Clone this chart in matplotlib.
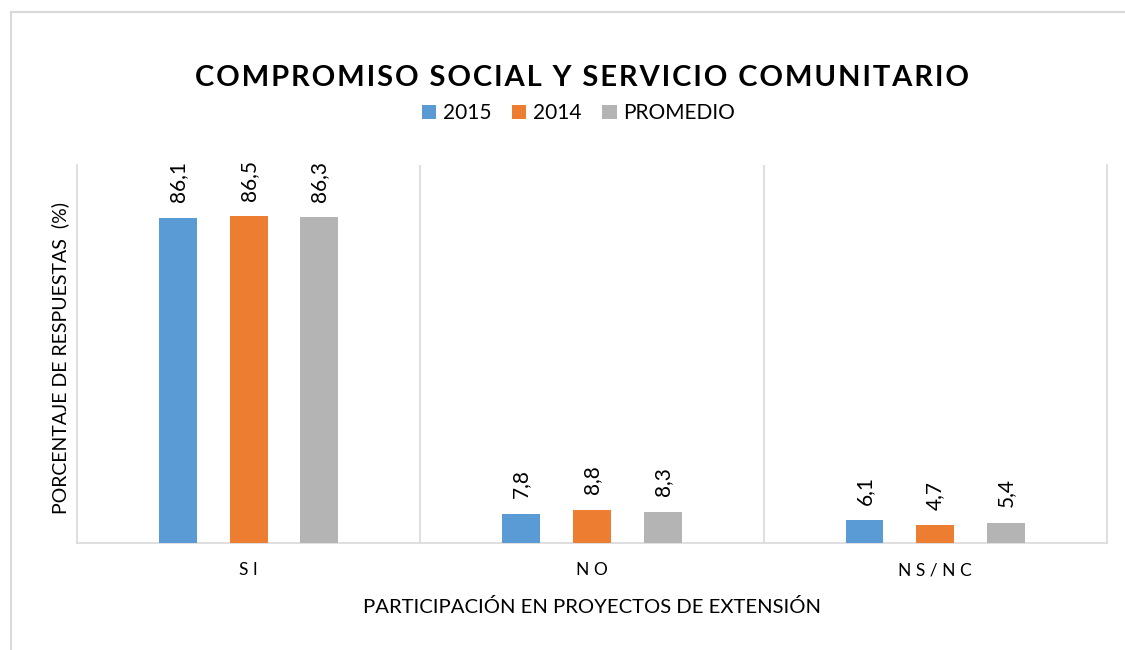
import matplotlib
matplotlib.use("Agg")
from matplotlib import pyplot as plt
from matplotlib.patches import Rectangle
import numpy as np

plt.rcParams['font.family'] = ['Lato', 'DejaVu Sans']

categories = ['S I', 'N O', 'N S / N C']
series_names = ['2015', '2014', 'PROMEDIO']
vals_2015 = [86.1, 7.8, 6.1]
vals_2014 = [86.5, 8.8, 4.7]
vals_prom = [86.3, 8.3, 5.4]
colors = ['#5b9bd5', '#ed7d31', '#b4b4b4']

fig = plt.figure(figsize=(11.25, 6.5), dpi=100)
ax = fig.add_axes([0.0684, 0.1646, 0.9156, 0.5814])

x = np.arange(len(categories))
width = 0.11
offs = [-0.206, 0.0, 0.206]
grid_c = '#d9d9d9'

for vals, name, col, off in zip([vals_2015, vals_2014, vals_prom], series_names, colors, offs):
    bars = ax.bar(x + off, vals, width, color=col, label=name, zorder=3)
    for b, v in zip(bars, vals):
        ax.annotate(('%.1f' % v).replace('.', ','),
                    (b.get_x() + b.get_width() / 2, b.get_height()),
                    xytext=(0, 11), textcoords='offset points',
                    rotation=90, ha='center', va='bottom', fontsize=15)

ax.set_xlim(-0.5, 2.5)
ax.set_ylim(0, 100)
ax.set_yticks([])
ax.set_xticks(x)
ax.set_xticklabels(categories, fontsize=12.5)
ax.tick_params(axis='x', length=0, pad=14)
for xv in [0.5, 1.5]:
    ax.axvline(xv, color=grid_c, lw=1.2, zorder=1)
for s in ['left', 'right', 'bottom']:
    ax.spines[s].set_color(grid_c)
    ax.spines[s].set_linewidth(1.2)
ax.spines['top'].set_visible(False)

fig.text(0.0533, 0.45, 'PORCENTAJE DE RESPUESTAS  (%)', rotation=90,
         ha='center', va='center', fontsize=14)
fig.text(0.526, 0.066, 'PARTICIPACIÓN EN PROYECTOS DE EXTENSIÓN',
         ha='center', va='center', fontsize=14.6)

title = 'COMPROMISO SOCIAL Y SERVICIO COMUNITARIO'
fig.text(0.517, 0.88, '\u200a'.join(title), ha='center', va='center',
         fontsize=21, fontweight='bold')

fig.legend(loc='center', bbox_to_anchor=(0.514, 0.826), ncol=3, frameon=False,
           fontsize=15, handlelength=0.7, handleheight=0.7, handletextpad=0.3,
           columnspacing=1.0)

fig.patches.append(Rectangle((11 / 1125, -0.1), 1.2, 1.1 - 12 / 650,
                             transform=fig.transFigure, fill=False,
                             edgecolor='#d9d9d9', lw=1.5))

fig.savefig('out.png', dpi=100)
